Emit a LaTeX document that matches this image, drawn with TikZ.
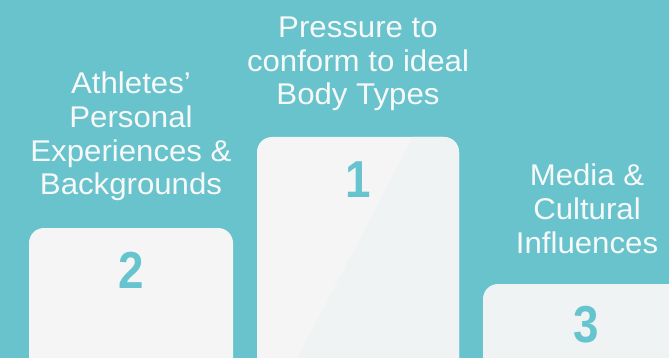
\documentclass[tikz,border=0pt]{standalone}
\usepackage{fontspec}
\setmainfont{Liberation Sans}[FakeStretch=1.04]
\newfontfamily\rankfont{Liberation Sans}[FakeStretch=0.88]
\definecolor{bgteal}{HTML}{68C3CC}
\definecolor{numteal}{HTML}{66C4CE}
\definecolor{boxgray}{HTML}{F5F5F5}
\definecolor{boxblue}{HTML}{EFF3F4}
\definecolor{labelwhite}{HTML}{F7F9F9}
\tikzset{
  podium/.style={rounded corners=15pt},
  label/.style={text=labelwhite, align=center, inner sep=0pt, anchor=base,
    font=\fontsize{30}{33.7}\selectfont},
  rank/.style={text=numteal, inner sep=0pt, anchor=base,
    font=\rankfont\fontsize{52}{52}\selectfont\bfseries}
}
\begin{document}
\begin{tikzpicture}[x=1pt,y=-1pt]
\useasboundingbox (0,0) rectangle (669,358);
\clip (0,0) rectangle (669,358);
\fill[bgteal] (0,0) rectangle (669,358);
% podium 1
\fill[boxgray, podium] (257,380) -- (257,137) -- (459,137) -- (459,380);
\begin{scope}
  \clip[podium] (257,380) -- (257,137) -- (459,137) -- (459,380);
  \fill[boxblue] (417,130) -- (470,130) -- (470,380) -- (286,380) -- cycle;
\end{scope}
% podium 2
\fill[boxgray, podium] (29,380) -- (29,228) -- (233,228) -- (233,380);
% podium 3
\fill[boxblue, podium] (483,380) -- (483,284) -- (687,284) -- (687,380);
% numbers
\node[rank] (n1) at (358,198) {1};
\node[rank] (n2) at (131,288) {2};
\node[rank] (n3) at (586,342) {3};
% labels (anchor = baseline of last line)
\node[label] (l1) at (358,105) {Pressure to\\conform to ideal\\Body Types};
\node[label] (l2) at (131,195) {Athletes’\\Personal\\Experiences \&\\Backgrounds};
\node[label] (l3) at (587,253) {Media \&\\Cultural\\Influences};
\end{tikzpicture}
\end{document}
